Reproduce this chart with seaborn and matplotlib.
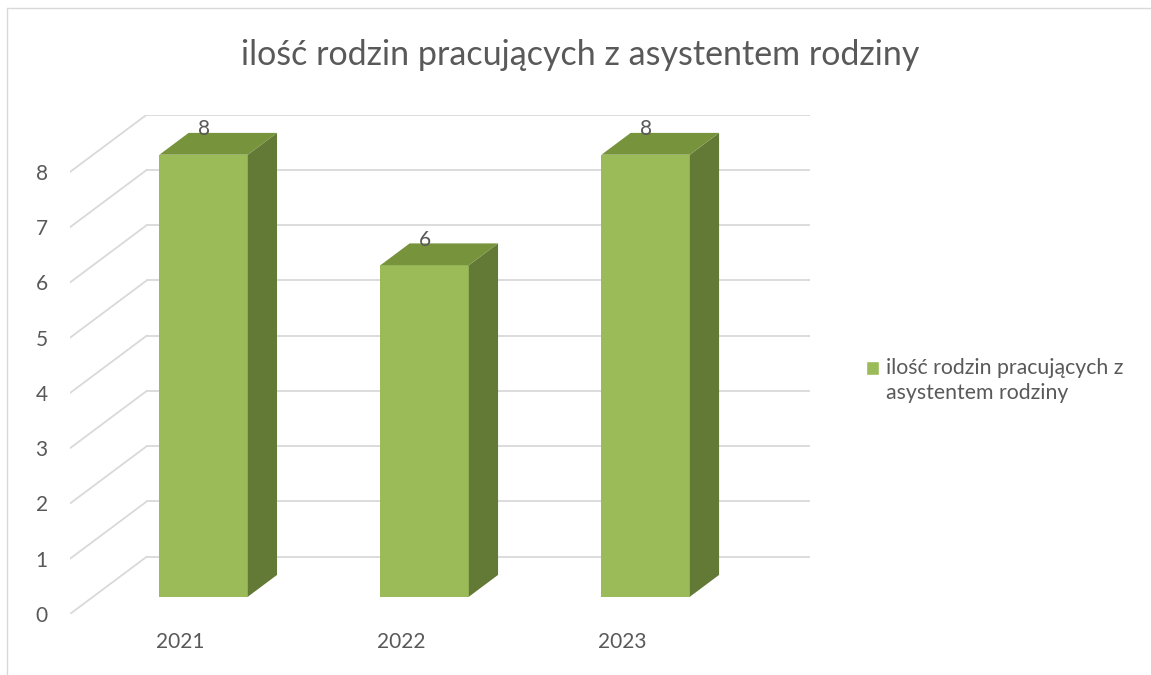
import pandas as pd
import seaborn as sns
import matplotlib.pyplot as plt
from matplotlib.patches import Polygon, Patch, Rectangle
from matplotlib.legend_handler import HandlerPatch
from matplotlib.lines import Line2D

# data
years = ['2021', '2022', '2023']
families = [8, 6, 8]
series_name = 'ilość rodzin pracujących z asystentem rodziny'
legend_label = 'ilość rodzin pracujących z\nasystentem rodziny'
y_ticks = list(range(0, 9))

df = pd.DataFrame({'rok': years, 'rodziny': families})

sns.set_style('white')
plt.rcParams['font.family'] = ['Lato', 'DejaVu Sans']

front_col = '#9BBB59'
side_col = '#637A36'
top_col = '#77933C'
grid_col = '#D9D9D9'
text_col = '#595959'

# fake 3D: oblique depth of the floor (x in category units, y in value units)
depth_x, depth_y = 0.348, 1.04
bar_front, bar_back = 0.30, 0.68
bar_w = 0.40

fig = plt.figure(figsize=(11.51, 6.75), dpi=100)
ax = fig.add_axes([70 / 1151, 61 / 675, 740 / 1151, 499.5 / 675])

sns.barplot(data=df, x='rok', y='rodziny', color=front_col, width=bar_w,
            saturation=1, ax=ax, zorder=3, linewidth=0)

ax.set_xlim(-0.5, 2.5 + depth_x)
ax.set_ylim(0, y_ticks[-1] + depth_y)

# gridlines: diagonal on the left wall + horizontal on the back wall
for k in y_ticks:
    ax.plot([-0.5, -0.5 + depth_x], [k, k + depth_y], color=grid_col, lw=1.3, zorder=1)
    ax.plot([-0.5 + depth_x, 2.5 + depth_x], [k + depth_y, k + depth_y],
            color=grid_col, lw=1.3, zorder=1)

bd_x = (bar_back - bar_front) * depth_x
bd_y = (bar_back - bar_front) * depth_y
for patch, val in zip(ax.patches, families):
    patch.set_x(patch.get_x() + bar_front * depth_x)
    patch.set_y(bar_front * depth_y)
    x0 = patch.get_x()
    x1 = x0 + patch.get_width()
    y0 = patch.get_y()
    y1 = y0 + patch.get_height()
    side = Polygon([(x1, y0), (x1 + bd_x, y0 + bd_y), (x1 + bd_x, y1 + bd_y), (x1, y1)],
                   closed=True, facecolor=side_col, edgecolor='none', zorder=3)
    top = Polygon([(x0, y1), (x1, y1), (x1 + bd_x, y1 + bd_y), (x0 + bd_x, y1 + bd_y)],
                  closed=True, facecolor=top_col, edgecolor='none', zorder=3)
    ax.add_patch(side)
    ax.add_patch(top)
    ax.text(x0 + patch.get_width() / 2, val + bar_back * depth_y + 0.07, str(val),
            ha='center', va='center', fontsize=15, color=text_col, zorder=4)

ax.set_yticks(y_ticks)
ax.set_xlabel('')
ax.set_ylabel('')
ax.tick_params(axis='y', length=0, pad=16, labelsize=15, labelcolor=text_col)
ax.tick_params(axis='x', length=0, pad=13, labelsize=15, labelcolor=text_col)
for s in ax.spines.values():
    s.set_visible(False)

fig.text(580 / 1151, 1 - 55 / 675, series_name, ha='center', va='center',
         fontsize=24.5, color=text_col)


# legend square sits next to the first line of the wrapped label
def first_line_square(legend, orig_handle, xdescent, ydescent, width, height, fontsize):
    return Rectangle((-xdescent, -ydescent + 0.62 * fontsize), width, height)


leg = fig.legend(handles=[Patch(facecolor=front_col)], labels=[legend_label],
                 loc='upper left', bbox_to_anchor=(847 / 1151, 1 - 339 / 675),
                 frameon=False, fontsize=15.3, labelcolor=text_col,
                 handlelength=0.62, handleheight=0.62, handletextpad=0.3,
                 handler_map={Patch: HandlerPatch(patch_func=first_line_square)})
leg.get_texts()[0].set_linespacing(1.32)

# chart area border (only top and left visible in the crop)
fig.add_artist(Line2D([7 / 1151, 1], [1 - 8 / 675, 1 - 8 / 675], color=grid_col, lw=1))
fig.add_artist(Line2D([7 / 1151, 7 / 1151], [0, 1 - 8 / 675], color=grid_col, lw=1))

fig.savefig('out.png', dpi=100)
